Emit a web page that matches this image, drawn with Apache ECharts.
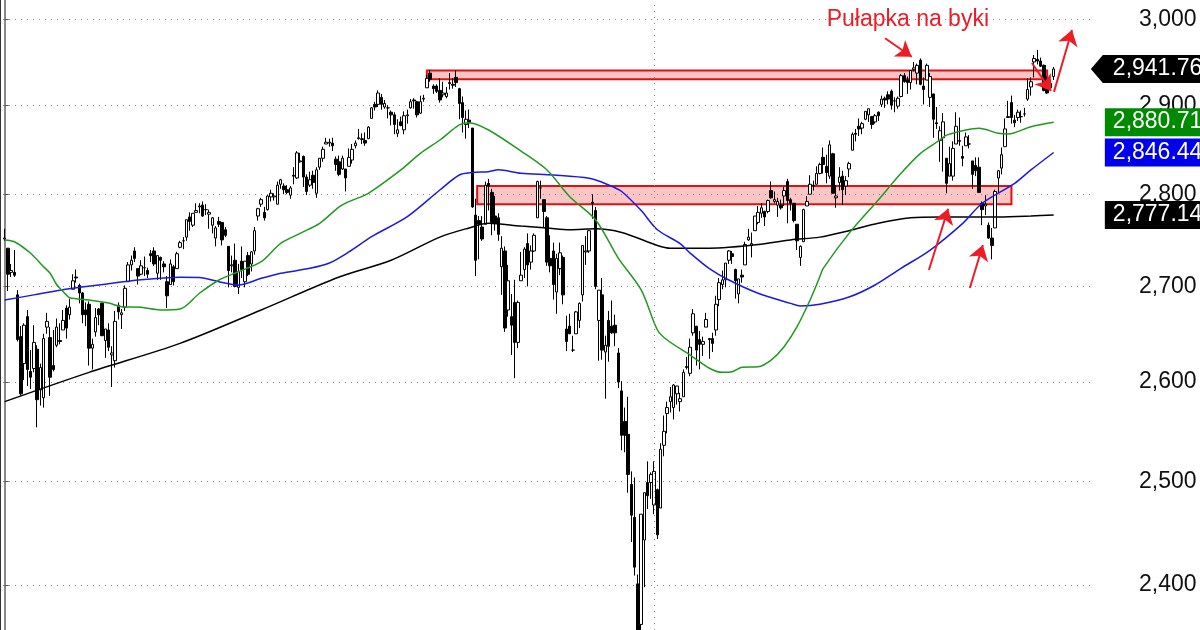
<!DOCTYPE html>
<html>
<head>
<meta charset="utf-8">
<title>S&amp;P 500 – pułapka na byki</title>
<script src="https://cdn.jsdelivr.net/npm/echarts@6/dist/echarts.min.js"></script>
<style>
  html, body { margin: 0; padding: 0; background: #fff; }
  #chart { width: 1200px; height: 630px; }
</style>
</head>
<body>
<div id="chart"></div>
<script>
  // daily candles, 16 Mar 2018 .. 28 Jun 2019 (one row per month)
  const opens = [
    2751,2741,2715,2715,2691,2647,2619,2668,2611,2614,
    2634,2592,2584,2657,2646,2617,2638,2643,2654,2677,2670,2697,2710,2701,2693,2675,2681,2635,2652,2676,2682,
    2643,2654,2628,2622,2680,2670,2678,2705,2723,2738,2719,2713,2720,2717,2735,2738,2714,2731,2724,2705,2702,2721,
    2719,2742,2749,2753,2775,2766,2780,2786,2788,2783,2778,2766,2752,2770,2769,2761,2743,2722,2728,2699,2727,
    2705,2733,2724,2738,2776,2789,2780,2783,2797,2797,2789,2811,2809,2805,2799,2821,2818,2836,2842,2819,2810,
    2821,2801,2830,2840,2856,2857,2857,2839,2836,2828,2828,2831,2838,2854,2862,2861,2860,2862,2885,2901,2901,2909,2898,
    2897,2892,2889,2868,2881,2872,2888,2897,2906,2904,2891,2907,2920,2937,2922,2922,2917,2912,2910,
    2926,2924,2932,2919,2903,2878,2883,2874,2777,2771,2764,2767,2812,2802,2776,2774,2721,2738,2675,2668,2683,2641,2706,
    2718,2746,2726,2738,2774,2807,2794,2774,2730,2738,2694,2719,2731,2655,2658,2633,2650,2664,2691,2737,2738,
    2791,2782,2664,2691,2631,2664,2658,2659,2630,2591,2560,2547,2497,2465,2401,2363,2443,2499,2499,
    2477,2492,2474,2536,2568,2580,2574,2588,2580,2585,2615,2609,2651,2658,2644,2639,2657,2645,2645,2654,2686,
    2702,2707,2728,2735,2718,2692,2712,2723,2750,2744,2760,2769,2779,2781,2781,2804,2792,2788,2788,
    2798,2814,2794,2790,2767,2731,2748,2787,2800,2810,2811,2823,2841,2831,2820,2845,2796,2813,2820,2809,2828,
    2849,2868,2876,2874,2884,2889,2887,2881,2892,2901,2908,2912,2916,2905,2899,2910,2934,2929,2926,2941,2937,
    2952,2922,2929,2909,2913,2880,2860,2863,2840,2820,2820,2856,2859,2842,2854,2856,2837,2832,2830,2790,2787,2766,
    2752,2763,2818,2829,2853,2886,2903,2883,2886,2887,2890,2907,2921,2950,2953,2951,2946,2926,2920,2933
  ];
  const highs = [
    2762,2741,2724,2739,2696,2658,2661,2675,2633,2659,
    2638,2619,2650,2672,2657,2654,2666,2661,2675,2680,2687,2713,2718,2703,2694,2683,2684,2645,2677,2677,2683,
    2655,2661,2637,2674,2683,2676,2701,2726,2733,2742,2719,2728,2732,2720,2739,2742,2733,2732,2727,2711,2729,2723,
    2737,2749,2753,2772,2780,2779,2790,2790,2792,2789,2783,2775,2765,2775,2769,2764,2743,2733,2746,2724,2743,
    2727,2737,2738,2764,2785,2796,2786,2799,2805,2801,2814,2817,2812,2810,2809,2830,2848,2846,2843,2822,2825,
    2826,2830,2840,2853,2863,2862,2863,2842,2843,2843,2828,2851,2856,2860,2873,2868,2869,2876,2898,2904,2917,2913,2906,
    2900,2894,2892,2884,2887,2893,2895,2907,2908,2905,2911,2912,2935,2941,2924,2924,2931,2927,2921,
    2937,2931,2940,2920,2910,2894,2895,2874,2795,2776,2776,2814,2817,2806,2798,2779,2754,2743,2723,2692,2707,2685,2737,
    2742,2757,2744,2757,2815,2815,2794,2776,2755,2747,2735,2747,2733,2669,2671,2648,2674,2683,2744,2754,2761,
    2800,2786,2696,2709,2648,2674,2685,2670,2635,2601,2574,2585,2510,2504,2410,2468,2489,2520,2509,
    2520,2493,2538,2566,2580,2595,2598,2596,2589,2613,2626,2645,2676,2658,2653,2647,2672,2645,2651,2690,2709,
    2717,2725,2739,2738,2719,2708,2718,2748,2762,2758,2776,2787,2790,2782,2794,2814,2803,2796,2794,
    2808,2817,2796,2790,2767,2744,2784,2798,2821,2815,2831,2835,2852,2844,2860,2846,2810,2830,2826,2820,2836,
    2869,2873,2885,2881,2893,2896,2887,2890,2893,2911,2910,2916,2918,2909,2910,2936,2937,2933,2940,2950,2948,
    2954,2932,2948,2937,2913,2898,2876,2891,2840,2853,2859,2892,2886,2854,2869,2866,2837,2841,2841,2792,2799,2769,
    2763,2805,2827,2852,2885,2905,2911,2889,2895,2894,2897,2931,2932,2958,2964,2955,2947,2933,2929,2944
  ];
  const lows = [
    2749,2695,2710,2710,2642,2586,2602,2596,2593,2610,
    2554,2576,2574,2650,2586,2611,2636,2639,2654,2645,2665,2697,2704,2682,2661,2658,2617,2613,2647,2659,2648,
    2625,2632,2595,2615,2665,2655,2674,2705,2717,2726,2702,2712,2711,2709,2726,2722,2707,2707,2715,2677,2702,2701,
    2719,2741,2740,2749,2760,2764,2780,2779,2775,2777,2762,2757,2743,2764,2744,2753,2699,2715,2699,2692,2709,
    2699,2711,2716,2734,2771,2786,2771,2782,2792,2793,2789,2806,2800,2800,2795,2811,2817,2835,2808,2799,2808,
    2806,2796,2827,2836,2856,2853,2848,2826,2820,2827,2803,2831,2834,2851,2861,2856,2854,2862,2885,2894,2898,2895,2896,
    2885,2877,2867,2864,2876,2867,2879,2896,2896,2886,2890,2904,2920,2927,2913,2914,2903,2909,2908,
    2918,2919,2921,2884,2869,2862,2874,2785,2711,2729,2749,2767,2782,2755,2760,2749,2691,2652,2668,2628,2604,2635,2706,
    2709,2700,2718,2737,2774,2795,2764,2722,2715,2686,2671,2712,2681,2632,2650,2631,2650,2656,2684,2723,2736,
    2773,2697,2622,2623,2583,2621,2650,2637,2594,2531,2529,2489,2441,2409,2351,2347,2398,2473,2483,
    2468,2444,2474,2525,2548,2569,2562,2577,2570,2585,2613,2606,2648,2617,2613,2627,2657,2624,2631,2648,2679,
    2697,2699,2724,2724,2687,2682,2704,2723,2749,2731,2760,2767,2774,2765,2779,2795,2790,2775,2783,
    2787,2768,2782,2769,2739,2722,2748,2787,2800,2804,2811,2822,2823,2812,2817,2801,2785,2804,2788,2799,2819,
    2849,2859,2865,2867,2883,2881,2873,2879,2882,2898,2897,2901,2895,2892,2896,2909,2926,2913,2918,2939,2924,
    2923,2901,2929,2898,2863,2873,2836,2825,2801,2820,2815,2856,2854,2831,2854,2851,2806,2820,2802,2766,2777,2751,
    2729,2763,2801,2822,2853,2886,2879,2875,2882,2880,2887,2905,2911,2932,2947,2944,2916,2913,2919,2929
  ];
  const closes = [
    2752,2713,2717,2712,2644,2588,2659,2613,2605,2641,
    2582,2615,2645,2663,2605,2613,2657,2642,2664,2656,2678,2706,2709,2693,2670,2670,2635,2639,2667,2670,2648,
    2655,2636,2630,2663,2673,2672,2698,2723,2728,2730,2711,2722,2720,2713,2733,2724,2733,2728,2721,2690,2724,2705,
    2735,2747,2749,2772,2770,2779,2782,2787,2776,2783,2780,2774,2763,2767,2750,2755,2717,2723,2700,2716,2718,
    2727,2713,2737,2760,2784,2794,2774,2798,2801,2798,2810,2816,2805,2802,2807,2820,2846,2837,2819,2803,2816,
    2813,2827,2840,2850,2858,2858,2854,2833,2822,2840,2818,2841,2850,2857,2863,2862,2857,2875,2897,2898,2914,2901,2902,
    2897,2889,2878,2872,2877,2888,2889,2904,2905,2889,2904,2908,2931,2930,2919,2916,2906,2914,2914,
    2925,2923,2926,2902,2886,2884,2880,2786,2728,2767,2751,2810,2809,2769,2768,2756,2741,2656,2706,2659,2641,2683,2712,
    2740,2723,2738,2755,2814,2807,2781,2726,2722,2702,2730,2736,2691,2642,2650,2633,2673,2682,2744,2738,2760,
    2790,2700,2696,2633,2638,2637,2651,2651,2600,2546,2546,2507,2467,2417,2351,2468,2489,2486,2507,
    2510,2448,2532,2550,2574,2585,2597,2596,2583,2610,2616,2636,2671,2633,2639,2642,2665,2644,2640,2681,2704,
    2707,2725,2738,2732,2706,2708,2710,2745,2753,2746,2776,2780,2785,2775,2793,2796,2794,2792,2785,
    2804,2793,2790,2771,2749,2743,2783,2792,2811,2809,2823,2833,2833,2824,2855,2801,2798,2819,2805,2815,2834,
    2867,2867,2873,2879,2893,2896,2878,2888,2888,2907,2906,2907,2900,2905,2908,2934,2927,2926,2940,2943,2946,
    2924,2918,2946,2933,2884,2879,2871,2881,2812,2834,2851,2876,2860,2840,2864,2856,2822,2826,2802,2783,2789,2752,
    2744,2803,2826,2844,2873,2887,2886,2880,2892,2887,2890,2918,2927,2954,2951,2945,2917,2914,2925,2941.76
  ];

  // moving averages: [candle index, value]
  const ma50 = [
    [0,2750],[3,2748],[8,2735.5],[12,2721],[14,2714],[16,2702],[17,2698],[19,2691],[20,2688],[26,2685.5],
    [32,2682.4],[36,2678.5],[42,2677.8],[48,2675],[54,2676],[60,2692.7],[66,2706.8],[72,2715.7],[79,2726.4],
    [85,2746.3],[91,2757.1],[97,2768],[103,2786],[106,2791.8],[112,2801],[122,2826.9],[128,2845.5],[134,2860.5],
    [140,2877.5],[143,2880.1],[149,2871.8],[159,2848],[167,2826.9],[174,2797.2],[182,2771.6],[189,2730],
    [196,2696.2],[201,2654],[204,2643.5],[211,2628],[217,2614.2],[221,2610],[224,2610.7],[227,2615.2],
    [232,2615.8],[236,2622.7],[240,2636.5],[244,2657.4],[248,2685.5],[251,2710.3],[252,2719],[260,2757.1],
    [269,2793.6],[276,2823.2],[282,2845.5],[288,2860.5],[290,2866],[300,2873.7],[306,2868.1],[309,2867.3],
    [316,2875.6],[323,2880.71]
  ];
  const ma100 = [
    [0,2685.5],[9,2691],[17,2696],[29,2701.5],[42,2707],[54,2709.7],[60,2709.5],[66,2705],[72,2701.5],
    [79,2708.6],[85,2714],[94,2719.3],[100,2725],[106,2737],[113,2753.5],[124,2775.3],[134,2804.6],[140,2821.3],
    [144,2824],[149,2825],[152,2827],[159,2823.2],[169,2821.3],[180,2817.6],[186,2810.2],[190,2803],[196,2782],
    [201,2761],[208,2746],[211,2736],[217,2719],[223,2706.8],[232,2692.7],[242,2682],[245,2679.2],[251,2681],
    [260,2688.7],[268,2701.5],[276,2719.3],[285,2739],[295,2768],[301,2790],[311,2812],[316,2826.9],[323,2846.44]
  ];
  const ma200 = [
    [0,2580],[26,2610],[54,2640],[79,2675],[103,2710],[119,2728],[134,2753],[143,2763],[149,2768],[159,2765],
    [167,2763],[174,2761],[182,2762],[190,2758],[201,2744],[205,2741],[217,2741],[223,2742],[232,2745],
    [242,2750],[251,2753],[260,2760],[269,2768],[279,2774],[288,2775],[306,2775],[316,2776],[323,2777.14]
  ];

  const priceTicks = [2400, 2500, 2600, 2700, 2800, 2900, 3000];
  const priceRange = [2357.8, 3022.9];
  const yearStart = 200; // first session of 2019

  // resistance / support zones: [fromIndex, toIndex, low, high]
  const zones = [[130, 321, 2930, 2940], [145.5, 310, 2789, 2809]];
  // hand-drawn arrows: [fromIndex, fromValue, toIndex, toValue]
  const arrows = [
    [271.1, 2977.6, 279.3, 2956],
    [284.6, 2717.5, 290.5, 2784],
    [297.2, 2698.3, 301.2, 2744.4],
    [316.3, 2948.7, 322.2, 2916.4],
    [323.1, 2915.3, 328.65, 2987.4]
  ];
  const trapText = 'Pułapka na byki';
  const trapAt = [278.1, 2999];

  const FONT = '"Liberation Sans", Arial, sans-serif';
  const RED = '#ee1c24';
  const slots = 335;          // candle slots incl. empty room before the price scale
  const edge = slots - 0.55;  // x position of the price scale
  const L = Math.log;

  const candles = opens.map((o, i) => [L(o), L(closes[i]), L(lows[i]), L(highs[i])]);
  const toLine = pts => pts.map(([i, v]) => [i, L(v)]);
  const money = v => v.toLocaleString('en-US', { minimumFractionDigits: 2, maximumFractionDigits: 2 });
  const tickPos = priceTicks.map(L);
  const last = arr => arr[arr.length - 1][1];

  function tag(value, color, pointed) {
    return {
      coord: [edge, L(value)],
      symbol: pointed ? 'path://M0,14L12,0L130,0L130,28L12,28Z' : 'rect',
      symbolSize: [130, 28],
      symbolKeepAspect: false,
      symbolOffset: [pointed ? 65 : 79, 0],
      itemStyle: { color },
      label: {
        show: true, position: 'insideLeft', distance: pointed ? 22 : 8,
        formatter: money(value), color: '#fff', fontSize: 23, fontFamily: FONT
      }
    }
  }

  const chart = echarts.init(document.getElementById('chart'));
  chart.setOption({
    animation: false,
    backgroundColor: '#fff',
    grid: { left: 3, right: 109, top: 0, bottom: 0 },
    xAxis: [
      { type: 'category', data: Array.from({ length: slots }, (_, i) => i), boundaryGap: true, show: false },
      { type: 'value', min: -0.5, max: slots - 0.5, show: false }
    ],
    yAxis: {
      type: 'value',
      position: 'right',
      min: L(priceRange[0]),
      max: L(priceRange[1]),
      axisLine: { show: true, lineStyle: { color: '#8a8a8a', width: 2 } },
      axisTick: { show: true, customValues: tickPos, length: 4, lineStyle: { color: '#555' } },
      axisLabel: {
        customValues: tickPos,
        formatter: v => Math.round(Math.exp(v)).toLocaleString('en-US'),
        color: '#111', fontSize: 23, fontFamily: FONT, margin: 48
      },
      splitLine: { show: true, lineStyle: { color: '#8a8a8a', type: [1, 5], width: 1 } }
    },
    graphic: [{
      type: 'line', shape: { x1: 0.5, y1: 0, x2: 0.5, y2: 630 },
      style: { stroke: '#333', lineWidth: 1 }, silent: true
    }],
    series: [
      {
        type: 'candlestick',
        xAxisIndex: 0,
        data: candles,
        barWidth: 3,
        itemStyle: { color: '#fff', color0: '#000', borderColor: '#000', borderColor0: '#000', borderWidth: 1 }
      },
      {
        type: 'line', xAxisIndex: 1, data: toLine(ma200),
        showSymbol: false, smooth: 0.3, silent: true,
        lineStyle: { color: '#000', width: 1.5 },
        markArea: {
          silent: true,
          itemStyle: { color: 'rgba(240,90,90,0.35)', borderColor: '#e01010', borderWidth: 2 },
          data: zones.map(([x0, x1, lo, hi]) => [{ coord: [x0, L(hi)] }, { coord: [x1, L(lo)] }])
        },
        markPoint: {
          silent: true,
          data: [
            tag(closes[closes.length - 1], '#000', true),
            tag(last(ma50), '#008a00', false),
            tag(last(ma100), '#0000ee', false),
            tag(last(ma200), '#000', false)
          ]
        }
      },
      {
        type: 'line', xAxisIndex: 1, data: toLine(ma100),
        showSymbol: false, smooth: 0.3, silent: true,
        lineStyle: { color: '#1a1ae6', width: 1.5 },
        markLine: {
          silent: true, symbol: ['none', 'none'], label: { show: false },
          lineStyle: { color: '#8a8a8a', type: [1, 5], width: 1 },
          data: [{ xAxis: yearStart }]
        }
      },
      {
        type: 'line', xAxisIndex: 1, data: toLine(ma50),
        showSymbol: false, smooth: 0.3, silent: true,
        lineStyle: { color: '#1f9a1f', width: 1.5 },
        markLine: {
          silent: true, symbol: ['none', 'arrow'], symbolSize: 15, label: { show: false },
          lineStyle: { color: RED, width: 2, type: 'solid' },
          data: arrows.map(([x0, v0, x1, v1]) => [{ coord: [x0, L(v0)] }, { coord: [x1, L(v1)] }])
        },
        markPoint: {
          silent: true,
          data: [{
            coord: [trapAt[0], L(trapAt[1])],
            symbol: 'rect', symbolSize: 1,
            itemStyle: { color: 'rgba(0,0,0,0)' },
            label: { show: true, position: 'inside', formatter: trapText, color: RED, fontSize: 23, fontFamily: FONT }
          }]
        }
      }
    ]
  });
</script>
</body>
</html>
